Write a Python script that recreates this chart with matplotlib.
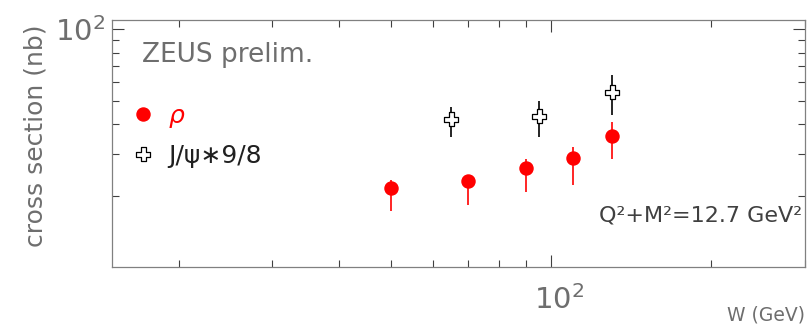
import numpy as np
import matplotlib
matplotlib.use("Agg")
import matplotlib.pyplot as plt
from matplotlib.path import Path
from matplotlib.lines import Line2D
from matplotlib.transforms import ScaledTranslation
from matplotlib.ticker import FixedLocator, NullFormatter, FixedFormatter

# ---- data: cross sections vs W ----
rho_w = [50, 70, 90, 110, 130]
rho_xs = [21.7, 23.2, 26.2, 29.0, 35.8]
rho_err_up = [1.6, 1.3, 2.5, 3.1, 5.3]
rho_err_dn = [4.3, 4.8, 5.3, 6.7, 7.1]

jpsi_w = [65, 95, 130]
jpsi_xs = [42.0, 43.4, 54.8]
jpsi_err_up = [5.4, 6.7, 9.6]
jpsi_err_dn = [6.5, 7.9, 11.0]

x_major = [100]
x_minor = [20, 30, 40, 50, 60, 70, 80, 90, 200, 300]
y_major = [100]
y_minor = [20, 30, 40, 50, 60, 70, 80, 90]

GRAY = "#6e6e6e"
plt.rcParams['font.family'] = ['DejaVu Sans']

# open greek cross marker
a = 0.18
cross = Path([(-a, -0.5), (a, -0.5), (a, -a), (0.5, -a), (0.5, a), (a, a),
              (a, 0.5), (-a, 0.5), (-a, a), (-0.5, a), (-0.5, -a), (-a, -a),
              (-a, -0.5)], closed=True)

fig = plt.figure(figsize=(8.11, 3.29), dpi=100)
ax = fig.add_axes([112 / 811, 62 / 329, 693 / 811, 247 / 329])
ax.set_xscale('log')
ax.set_yscale('log')
ax.set_xlim(15, 300)
ax.set_ylim(10.1, 109.5)

# rho points
ax.errorbar(rho_w, rho_xs, yerr=[rho_err_dn, rho_err_up], fmt='none',
            ecolor='red', elinewidth=1.2, capsize=0, zorder=2)
ax.plot(rho_w, rho_xs, 'o', color='red', ms=9.4, mec='red', zorder=3)

# J/psi points
ax.errorbar(jpsi_w, jpsi_xs, yerr=[jpsi_err_dn, jpsi_err_up], fmt='none',
            ecolor='black', elinewidth=1.2, capsize=0, zorder=2)
ax.plot(jpsi_w, jpsi_xs, ls='none', marker=cross, ms=10, mfc='white',
        mec='black', mew=0.9, zorder=3)

# axes styling
for sp in ax.spines.values():
    sp.set_color('#808080')
    sp.set_linewidth(0.9)

ax.xaxis.set_major_locator(FixedLocator(x_major))
ax.xaxis.set_minor_locator(FixedLocator(x_minor))
ax.yaxis.set_major_locator(FixedLocator(y_major))
ax.yaxis.set_minor_locator(FixedLocator(y_minor))
ax.xaxis.set_major_formatter(FixedFormatter([r'$\mathregular{10^2}$']))
ax.yaxis.set_major_formatter(FixedFormatter([r'$\mathregular{10^2}$']))
ax.xaxis.set_minor_formatter(NullFormatter())
ax.yaxis.set_minor_formatter(NullFormatter())
ax.tick_params(which='both', direction='in', top=True, right=True,
               color='#404040', width=0.8, labelcolor=GRAY, labelsize=21)
ax.tick_params(which='major', length=8.6)
ax.tick_params(which='minor', length=4.7)
ax.tick_params(axis='x', pad=13)
ax.tick_params(axis='y', pad=5)

# shift the x label so the "10" sits centred under its tick
for lbl in ax.get_xticklabels():
    lbl.set_transform(lbl.get_transform() +
                      ScaledTranslation(8 / 100, 0, fig.dpi_scale_trans))

ax.set_ylabel('cross section (nb)', fontsize=18, color=GRAY)
ax.yaxis.label.set_va('center')
ax.yaxis.set_label_coords(-0.11, 0.53)
ax.set_xlabel('W (GeV)', fontsize=13.5, color=GRAY)
ax.xaxis.label.set_ha('right')
ax.xaxis.label.set_va('center')
ax.xaxis.set_label_coords(1.0, -0.194)

ax.text(0.0433, 0.83, 'ZEUS prelim.', transform=ax.transAxes, fontsize=19,
        color=GRAY, va='baseline', ha='left')
ax.text(0.9957, 0.186, 'Q²+M²=12.7 GeV²', transform=ax.transAxes,
        fontsize=16, color='#404040', va='baseline', ha='right')

# legend
handles = [Line2D([], [], ls='none', marker='o', color='red', ms=9.4),
           Line2D([], [], ls='none', marker=cross, ms=10, mfc='white',
                  mec='black', mew=0.9)]
leg = ax.legend(handles, [r'$\rho$', 'J/ψ∗9/8'], loc='upper left',
                bbox_to_anchor=(0.0, 0.74), frameon=False, fontsize=18,
                handlelength=0.9, handletextpad=0.55, labelspacing=0.55,
                borderpad=0.3, labelcolor=['red', '#202020'])

fig.savefig('out.png', dpi=100)
